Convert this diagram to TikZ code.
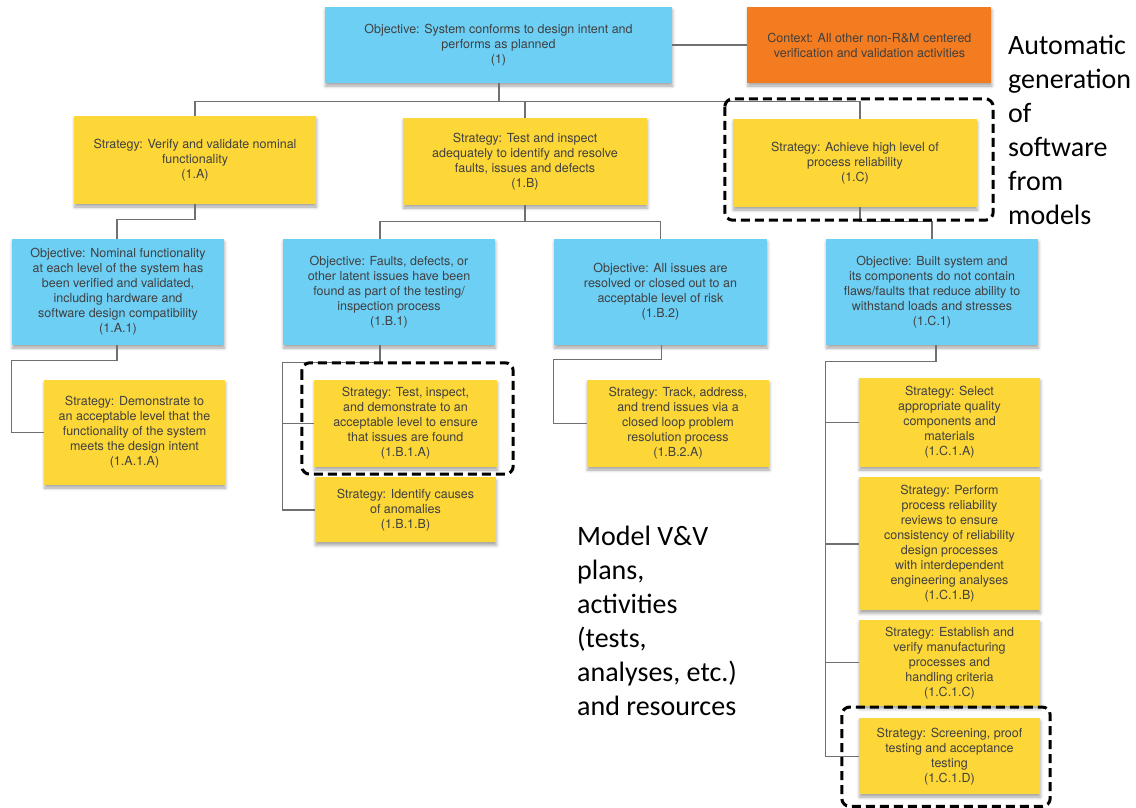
\documentclass[tikz,border=0pt]{standalone}
\usepackage{fontspec}
\usepackage{xcolor}
\usepackage{tikz}
\usetikzlibrary{positioning,shadows,shadows.blur}

\newfontfamily\boxfamily{TeX Gyre Heros}
\newfontfamily\notefamily{Carlito}

\definecolor{objblue}{HTML}{6ECFF5}
\definecolor{stratyellow}{HTML}{FDD737}
\definecolor{ctxorange}{HTML}{F47C20}
\definecolor{textgray}{HTML}{404040}
\definecolor{linkgray}{HTML}{707070}

\tikzset{
	box/.style={align=center, inner sep=0pt, text=textgray,
		font=\boxfamily\fontsize{12.5}{15}\selectfont,
		blur shadow={shadow xshift=0.5pt, shadow yshift=-3pt, shadow blur radius=3pt, shadow opacity=35}},
	objective/.style={box, fill=objblue},
	strategy/.style={box, fill=stratyellow},
	context/.style={box, fill=ctxorange},
	link/.style={draw=linkgray, line width=1.2pt},
	focus/.style={draw=black, line width=3pt, dash pattern=on 9pt off 5pt, rounded corners=8pt},
	note/.style={align=left, anchor=north west, inner sep=0pt, text=black,
		font=\notefamily\fontsize{28}{34}\selectfont}
}

\begin{document}
\begin{tikzpicture}[x=1pt, y=-1pt]
	\useasboundingbox (0,0) rectangle (1136,807);

	\node[objective, minimum width=347pt, minimum height=76pt] (obj1) at (498.5,45) {Objective: System conforms to design intent and\\performs as planned\\(1)};
	\node[context, minimum width=244pt, minimum height=76pt, right=75pt of obj1] (ctx) {Context: All other non-R\&M centered\\verification and validation activities};

	\node[strategy, minimum width=242pt, minimum height=88pt] (s1A) at (195,160) {Strategy: Verify and validate nominal\\functionality\\(1.A)};
	\node[strategy, minimum width=244pt, minimum height=87pt] (s1B) at (525,161.5) {Strategy: Test and inspect\\adequately to identify and resolve\\faults, issues and defects\\(1.B)};
	\node[strategy, minimum width=244pt, minimum height=88pt] (s1C) at (855,163) {Strategy: Achieve high level of\\process reliability\\(1.C)};

	\node[objective, minimum width=212pt, minimum height=106pt] (o1A1) at (118,292) {Objective: Nominal functionality\\at each level of the system has\\been verified and validated,\\including hardware and\\software design compatibility\\(1.A.1)};
	\node[objective, minimum width=212pt, minimum height=106pt] (o1B1) at (389,292) {Objective: Faults, defects, or\\other latent issues have been\\found as part of the testing/\\inspection process\\(1.B.1)};
	\node[objective, minimum width=213pt, minimum height=106pt] (o1B2) at (660.5,292) {Objective: All issues are\\resolved or closed out to an\\acceptable level of risk\\(1.B.2)};
	\node[objective, minimum width=212pt, minimum height=106pt] (o1C1) at (932,292) {Objective: Built system and\\its components do not contain\\flaws/faults that reduce ability to\\withstand loads and stresses\\(1.C.1)};

	\node[strategy, minimum width=181pt, minimum height=105pt] (s1A1A) at (134.5,432.5) {Strategy: Demonstrate to\\an acceptable level that the\\functionality of the system\\meets the design intent\\(1.A.1.A)};
	\node[strategy, minimum width=183pt, minimum height=87pt] (s1B1A) at (405.5,423.5) {Strategy: Test, inspect,\\and demonstrate to an\\acceptable level to ensure\\that issues are found\\(1.B.1.A)};
	\node[strategy, minimum width=181pt, minimum height=65pt, below=10pt of s1B1A] (s1B1B) {Strategy: Identify causes\\of anomalies\\(1.B.1.B)};
	\node[strategy, minimum width=182pt, minimum height=87pt] (s1B2A) at (678,423.5) {Strategy: Track, address,\\and trend issues via a\\closed loop problem\\resolution process\\(1.B.2.A)};
	\node[strategy, minimum width=181pt, minimum height=89pt] (s1C1A) at (949.5,422.5) {Strategy: Select\\appropriate quality\\components and\\materials\\(1.C.1.A)};
	\node[strategy, minimum width=181pt, minimum height=133pt, below=10pt of s1C1A] (s1C1B) {Strategy: Perform\\process reliability\\reviews to ensure\\consistency of reliability\\design processes\\with interdependent\\engineering analyses\\(1.C.1.B)};
	\node[strategy, minimum width=181pt, minimum height=86pt, below=9pt of s1C1B] (s1C1C) {Strategy: Establish and\\verify manufacturing\\processes and\\handling criteria\\(1.C.1.C)};
	\node[strategy, minimum width=181pt, minimum height=76pt, below=12pt of s1C1C] (s1C1D) {Strategy: Screening, proof\\testing and acceptance\\testing\\(1.C.1.D)};

	\node[note] (autogen) at (1008,35) {Automatic\\generation\\of\\software\\from\\models};
	\node[note] (modelvv) at (577,526) {Model V\&V\\plans,\\activities\\(tests,\\analyses, etc.)\\and resources};

	\draw[link] (obj1) -- (ctx);
	\draw[link] ([xshift=0.5pt]obj1.south) -- ++(0,18) coordinate (bus);
	\draw[link] (s1A.north) |- (bus) -| ([xshift=5pt]s1C.north);
	\draw[link] (s1B.north) -- (s1B.north |- bus);

	\draw[link] (s1A.south) -- ++(0,15) -| ([xshift=-1pt]o1A1.north);
	\draw[link] (s1B.south) -- ++(0,16) coordinate (busB) -| ([xshift=-9pt]o1B1.north);
	\draw[link] (busB) -| (o1B2.north);
	\draw[link] ([xshift=5pt]s1C.south) -- ++(0,14) -| (o1C1.north);

	\draw[link] ([xshift=-1pt]o1A1.south) -- ++(0,15) -| (o1A1.west |- s1A1A.west) -- (s1A1A.west);
	\draw[link] ([xshift=-9pt]o1B1.south) -- ++(0,17) -| (o1B1.west |- s1B1B.west) -- (s1B1B.west);
	\draw[link] (s1B1A.west) -- (s1B1A.west -| o1B1.west);
	\draw[link] ([xshift=1pt]o1B2.south) -- ++(0,14) -| (o1B2.west |- s1B2A.west) -- (s1B2A.west);
	\draw[link] ([xshift=4pt]o1C1.south) -- ++(0,16) -| (o1C1.west |- s1C1D.west) -- (s1C1D.west);
	\draw[link] (s1C1A.west) -- (s1C1A.west -| o1C1.west);
	\draw[link] (s1C1B.west) -- (s1C1B.west -| o1C1.west);
	\draw[link] (s1C1C.west) -- (s1C1C.west -| o1C1.west);

	\draw[focus] ([shift={(-8,-20)}]s1C.north west) rectangle ([shift={(16,13)}]s1C.south east);
	\draw[focus] ([shift={(-12,-17)}]s1B1A.north west) rectangle ([shift={(16,7)}]s1B1A.south east);
	\draw[focus] ([shift={(-17,-11)}]s1C1D.north west) rectangle ([shift={(10,12)}]s1C1D.south east);
\end{tikzpicture}
\end{document}
